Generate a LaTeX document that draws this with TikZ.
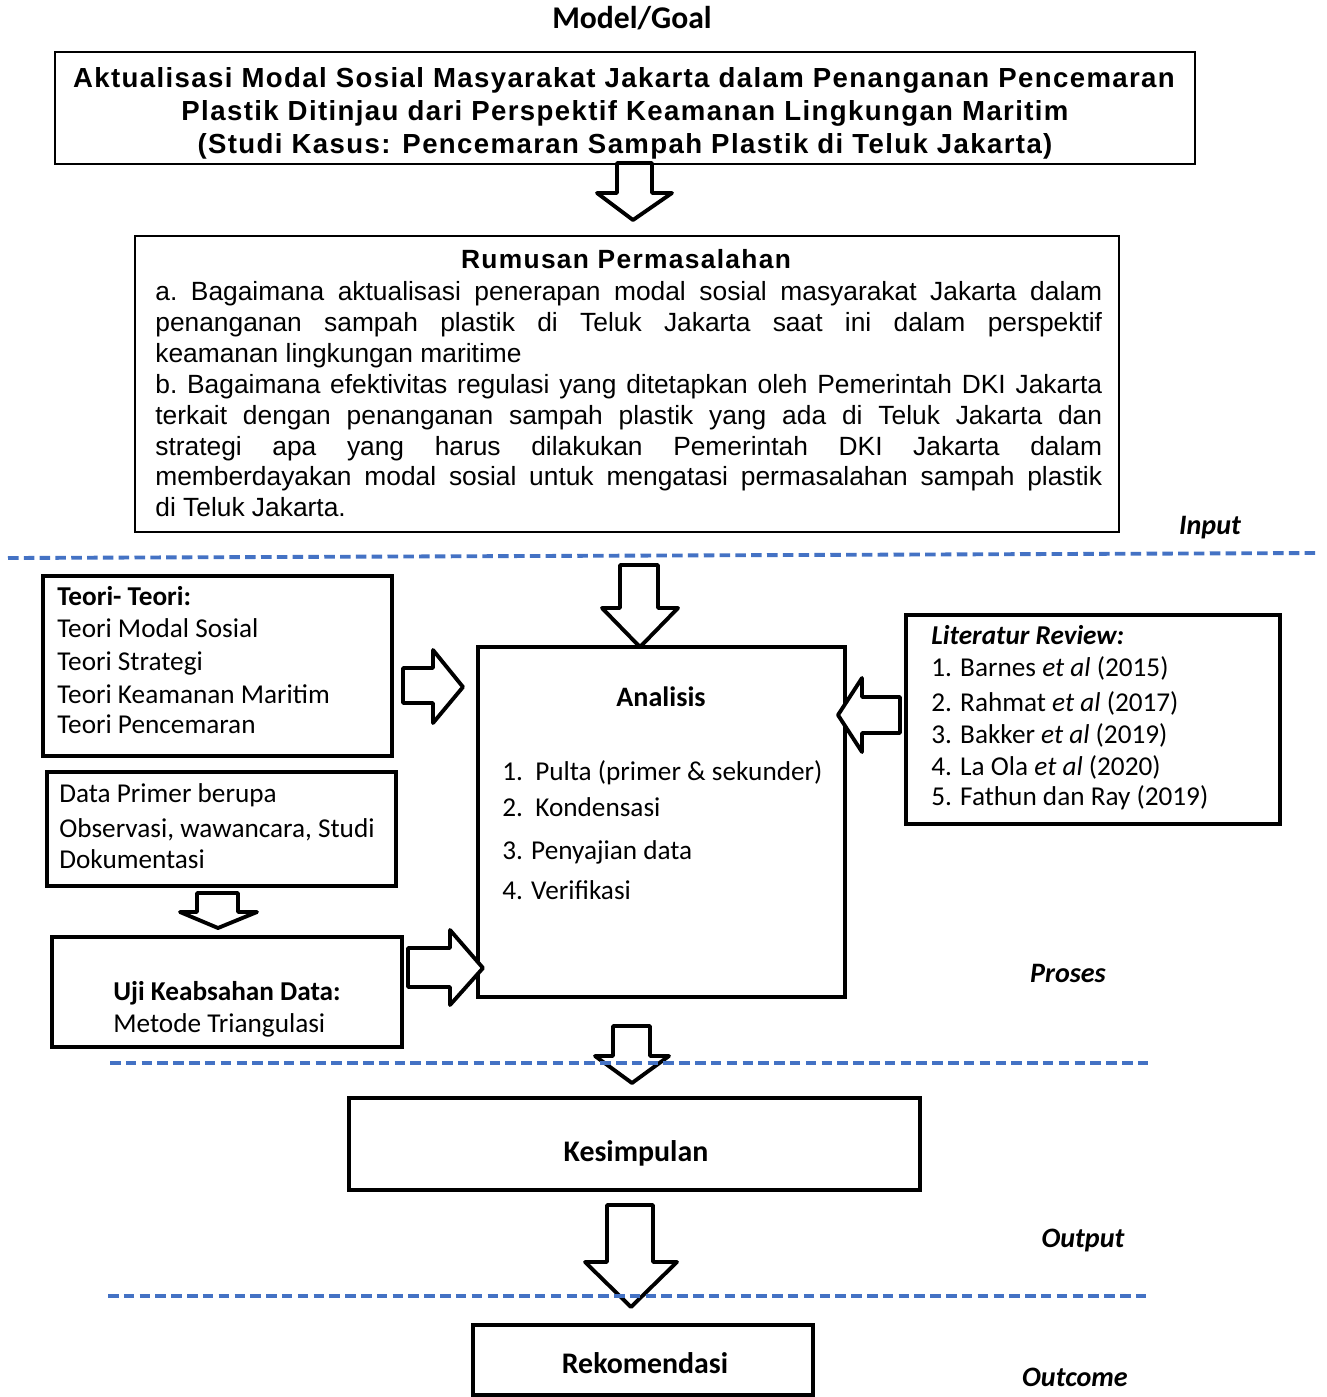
\documentclass[tikz,border=0pt]{standalone}
\usepackage{fontspec}
\setmainfont{Carlito}
\newfontfamily\arialfont{Liberation Sans}
\newfontfamily\arialspaced[LetterSpace=5]{Liberation Sans}
\definecolor{sepblue}{HTML}{4472C4}

\begin{document}
\begin{tikzpicture}[x=0.02cm, y=-0.02cm,
thinbox/.style={line width=1.2pt},
box/.style={line width=2.4pt},
blk/.style={line width=2.2pt, line join=round, fill=white},
sep/.style={sepblue, line width=2.2pt, dash pattern=on 6pt off 3pt},
phase/.style={inner sep=0pt, font=\fontsize{16}{19}\selectfont\bfseries\itshape},
item/.style={anchor=base west, inner sep=0pt, font=\fontsize{15.5}{18}\selectfont},
head/.style={anchor=base, inner sep=0pt, font=\fontsize{16}{19}\selectfont\bfseries}]
\fill[white] (0,0) rectangle (1326,1397);
\useasboundingbox (0,0) rectangle (1326,1397);
%================================================================
%	Boxes
\draw[thinbox] (55,52) rectangle (1195,164);
\draw[thinbox] (135,236) rectangle (1119,532);
\draw[box] (43,576) rectangle (392,756);
\draw[box] (47,772) rectangle (396,886);
\draw[box] (52,937) rectangle (402,1047);
\draw[box] (478,647) rectangle (845,997);
\draw[box] (906,615) rectangle (1280,824);
\draw[box] (349,1098) rectangle (920,1190);
\draw[box] (473,1325) rectangle (813,1395);

%================================================================
%	Nodes
\node[head, font=\fontsize{18}{21}\selectfont\bfseries] (model) at (632,28) {Model/Goal};

\node[anchor=base, inner sep=0pt, font=\arialspaced\bfseries\fontsize{15.7}{19}\selectfont] (goal1) at (624,87) {Aktualisasi Modal Sosial Masyarakat Jakarta dalam Penanganan Pencemaran};
\node[anchor=base, inner sep=0pt, font=\arialspaced\bfseries\fontsize{15.7}{19}\selectfont] (goal2) at (625,120) {Plastik Ditinjau dari Perspektif Keamanan Lingkungan Maritim};
\node[anchor=base, inner sep=0pt, font=\arialspaced\bfseries\fontsize{15.7}{19}\selectfont] (goal3) at (625,153) {(Studi Kasus: Pencemaran Sampah Plastik di Teluk Jakarta)};

%----------------------------------------------------------------
\node[anchor=base, inner sep=0pt, font=\arialspaced\bfseries\fontsize{15}{18}\selectfont] (rumus) at (626,268) {Rumusan Permasalahan};
\node[anchor=north west, inner sep=0pt, text width=18.94cm, align=justify,
      font=\arialfont\fontsize{15}{17.6}\selectfont] (rumustext) at (155,281)
{a.\ Bagaimana aktualisasi penerapan modal sosial masyarakat Jakarta dalam\linebreak
penanganan sampah plastik di Teluk Jakarta saat ini dalam perspektif\linebreak
keamanan lingkungan maritime\par
b.\ Bagaimana efektivitas regulasi yang ditetapkan oleh Pemerintah DKI Jakarta\linebreak
terkait dengan penanganan sampah plastik yang ada di Teluk Jakarta dan\linebreak
strategi apa yang harus dilakukan Pemerintah DKI Jakarta dalam\linebreak
memberdayakan modal sosial untuk mengatasi permasalahan sampah plastik\linebreak
di Teluk Jakarta.};

%----------------------------------------------------------------
\node[item, font=\fontsize{15.5}{18}\selectfont\bfseries] (teori0) at (57,605) {Teori- Teori:};
\node[item] (teori1) at (57,637) {Teori Modal Sosial};
\node[item] (teori2) at (57,670) {Teori Strategi};
\node[item] (teori3) at (57,703) {Teori Keamanan Maritim};
\node[item] (teori4) at (57,733) {Teori Pencemaran};

\node[item] (data1) at (59,802) {Data Primer berupa};
\node[item] (data2) at (59,837) {Observasi, wawancara, Studi};
\node[item] (data3) at (59,868) {Dokumentasi};

\node[item, font=\fontsize{15.5}{18}\selectfont\bfseries] (uji1) at (113,1000) {Uji Keabsahan Data:};
\node[item] (uji2) at (113,1032) {Metode Triangulasi};

%----------------------------------------------------------------
\node[head] (analisis) at (661,706) {Analisis};
\node[item] (ana1) at (502,780) {1.~~Pulta (primer \& sekunder)};
\node[item] (ana2) at (502,816) {2.~~Kondensasi};
\node[item] (ana3) at (502,859) {3. Penyajian data};
\node[item] (ana4) at (502,899) {4. Verifikasi};

%----------------------------------------------------------------
\node[item, font=\fontsize{15.5}{18}\selectfont\bfseries\itshape] (lit0) at (931,644) {Literatur Review:};
\node[item] (lit1) at (931,676) {1. Barnes \textit{et al} (2015)};
\node[item] (lit2) at (931,711) {2. Rahmat \textit{et al} (2017)};
\node[item] (lit3) at (931,743) {3. Bakker \textit{et al} (2019)};
\node[item] (lit4) at (931,775) {4. La Ola \textit{et al} (2020)};
\node[item] (lit5) at (931,805) {5. Fathun dan Ray (2019)};

%----------------------------------------------------------------
\node[head, font=\fontsize{17}{20}\selectfont\bfseries] (kesimpulan) at (636,1161) {Kesimpulan};
\node[head, font=\fontsize{17}{20}\selectfont\bfseries] (rekomendasi) at (645,1373) {Rekomendasi};

\node[phase] (input) at (1210,528) {Input};
\node[phase] (proses) at (1068,973) {Proses};
\node[phase] (output) at (1083,1240) {Output};
\node[phase] (outcome) at (1075,1377) {Outcome};

%================================================================
%	Block arrows
\draw[blk] (617,163) -- (652,163) -- (652,193) -- (672,193) -- (633,220) -- (597,193) -- (617,193) -- cycle;
\draw[blk] (620,565) -- (658,565) -- (658,608) -- (678,608) -- (640,647) -- (602,608) -- (620,608) -- cycle;
\draw[blk] (403,668) -- (433,668) -- (433,650) -- (463,687) -- (433,723) -- (433,703) -- (403,703) -- cycle;
\draw[blk] (900,697) -- (862,697) -- (862,678) -- (838,715) -- (862,752) -- (862,733) -- (900,733) -- cycle;
\draw[blk] (197,893) -- (238,893) -- (238,912) -- (257,912) -- (218,928) -- (180,912) -- (197,912) -- cycle;
\draw[blk] (408,948) -- (450,948) -- (450,930) -- (483,968) -- (450,1005) -- (450,987) -- (408,987) -- cycle;
\draw[blk] (613,1026) -- (650,1026) -- (650,1056) -- (669,1056) -- (632,1083) -- (595,1056) -- (613,1056) -- cycle;
\draw[blk] (607,1205) -- (653,1205) -- (653,1262) -- (677,1262) -- (631,1307) -- (585,1262) -- (607,1262) -- cycle;

%================================================================
%	Dashed lines
\draw[sep] (8,558) -- (1318,553);
\draw[sep] (110,1063) -- (1152,1063);
\draw[sep] (108,1296) -- (1150,1296);
\end{tikzpicture}
\end{document}
